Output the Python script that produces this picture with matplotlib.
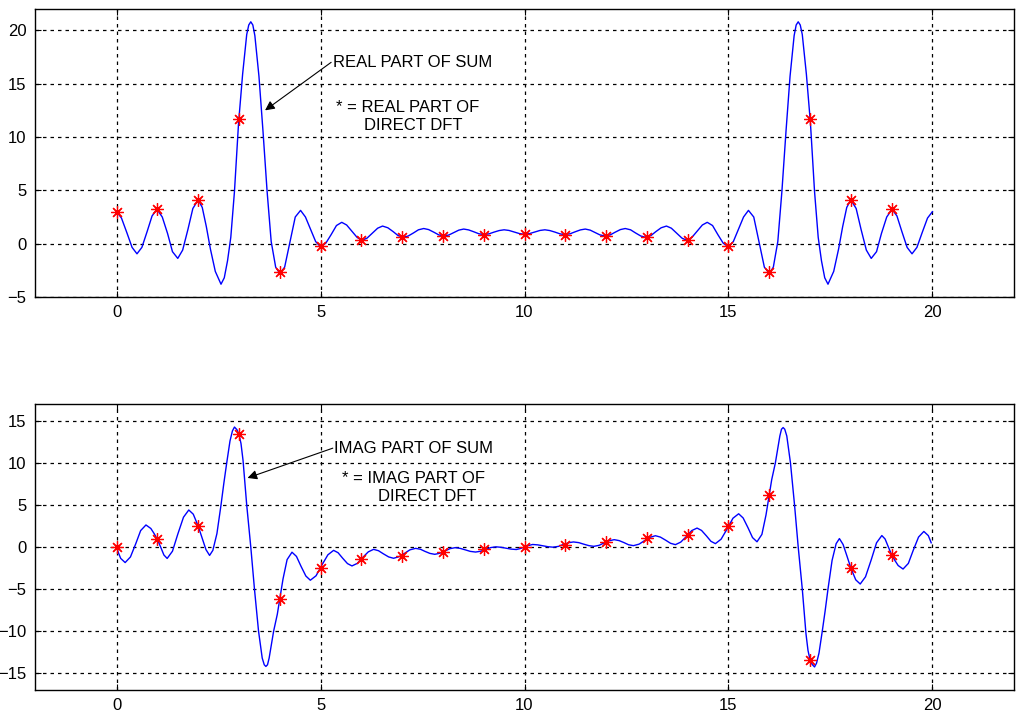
import matplotlib
matplotlib.use("Agg")
import matplotlib.pyplot as plt

plt.rcParams['font.family'] = ['Liberation Sans', 'DejaVu Sans']

# continuous sum, real part
re_k = [0.00, 0.12, 0.25, 0.38, 0.50, 0.62, 0.75, 0.87, 0.99, 1.12, 1.25, 1.37, 1.50, 1.62, 1.75, 1.87,
        2.00, 2.10, 2.20, 2.30, 2.42, 2.56, 2.64, 2.72, 2.80, 2.89, 2.99, 3.09, 3.19, 3.24, 3.29, 3.34, 3.39, 3.49,
        3.59, 3.69, 3.79, 3.90, 4.00, 4.12, 4.25, 4.38, 4.51, 4.63, 4.75, 4.88, 5.00, 5.13, 5.26, 5.39,
        5.52, 5.64, 5.77, 5.90, 6.02, 6.14, 6.27, 6.40, 6.52, 6.65, 6.78, 6.90, 7.03, 7.15, 7.28, 7.40,
        7.53, 7.65, 7.78, 7.90, 8.03, 8.15, 8.27, 8.39, 8.51, 8.63, 8.76, 8.88, 9.01, 9.13, 9.25, 9.38,
        9.50, 9.62, 9.75, 9.88, 10.00,
        10.12, 10.25, 10.38, 10.50, 10.62, 10.75, 10.87, 10.99, 11.12, 11.24, 11.37, 11.49, 11.61, 11.73,
        11.85, 11.97, 12.10, 12.22, 12.35, 12.47, 12.60, 12.72, 12.85, 12.97, 13.10, 13.22, 13.35, 13.48,
        13.60, 13.73, 13.86, 13.98, 14.10, 14.23, 14.36, 14.48, 14.61, 14.74, 14.87, 15.00, 15.12, 15.25,
        15.37, 15.49, 15.62, 15.75, 15.88, 16.00, 16.10, 16.21, 16.31, 16.41, 16.51, 16.61, 16.66, 16.71, 16.76, 16.81,
        16.91, 17.01, 17.11, 17.20, 17.28, 17.36, 17.44, 17.58, 17.70, 17.80, 17.90, 18.00, 18.13, 18.25,
        18.38, 18.50, 18.63, 18.75, 18.88, 19.01, 19.13, 19.25, 19.38, 19.50, 19.62, 19.75, 19.88, 20.00]
re_sum = [3.00, 2.40, 1.05, -0.35, -0.95, -0.35, 1.15, 2.60, 3.22, 2.50, 0.95, -0.75, -1.38, -0.60, 1.35, 3.30,
          4.10, 3.40, 1.60, -0.50, -2.60, -3.80, -3.20, -1.60, 0.60, 4.90, 11.3, 15.9, 19.6, 20.5, 20.8, 20.5, 19.5, 15.7,
          10.5, 4.90, 0.20, -2.20, -2.80, -2.20, 0.15, 2.50, 3.12, 2.50, 1.40, 0.20, -0.30, 0.05, 0.85, 1.70,
          2.00, 1.75, 1.16, 0.57, 0.32, 0.52, 0.99, 1.45, 1.65, 1.49, 1.13, 0.76, 0.60, 0.72, 1.01, 1.30,
          1.42, 1.32, 1.07, 0.82, 0.72, 0.82, 1.05, 1.27, 1.37, 1.29, 1.11, 0.93, 0.85, 0.92, 1.08, 1.23,
          1.30, 1.24, 1.09, 0.94, 0.88,
          0.94, 1.09, 1.24, 1.30, 1.23, 1.08, 0.92, 0.85, 0.93, 1.11, 1.29, 1.37, 1.27, 1.05,
          0.82, 0.72, 0.82, 1.07, 1.32, 1.42, 1.30, 1.01, 0.72, 0.60, 0.76, 1.13, 1.49, 1.65,
          1.45, 0.99, 0.52, 0.32, 0.57, 1.16, 1.75, 2.00, 1.70, 0.85, 0.05, -0.30, 0.20, 1.40,
          2.50, 3.12, 2.50, 0.15, -2.20, -2.80, -2.20, 0.20, 4.90, 10.5, 15.7, 19.5, 20.5, 20.8, 20.5, 19.6,
          15.9, 11.3, 4.90, 0.60, -1.60, -3.20, -3.80, -2.60, -0.50, 1.60, 3.40, 4.10, 3.30, 1.35,
          -0.60, -1.38, -0.75, 0.95, 2.50, 3.22, 2.60, 1.15, -0.35, -0.95, -0.35, 1.05, 2.40, 3.00]

# continuous sum, imaginary part
im_k = [0.00, 0.05, 0.10, 0.21, 0.34, 0.47, 0.59, 0.72, 0.84, 0.92, 1.00, 1.08, 1.16, 1.24, 1.37, 1.50,
        1.64, 1.77, 1.88, 2.00, 2.10, 2.19, 2.28, 2.36, 2.46, 2.56, 2.63, 2.70, 2.78, 2.84, 2.89, 2.95, 3.00,
        3.05, 3.10, 3.19, 3.29, 3.38, 3.48, 3.57, 3.62, 3.66, 3.70, 3.74, 3.85, 3.94, 4.00, 4.08, 4.18, 4.30, 4.41,
        4.52, 4.64, 4.75, 4.89, 5.03, 5.18, 5.32, 5.43, 5.54, 5.66, 5.77, 5.90, 6.03, 6.17, 6.30, 6.42,
        6.54, 6.67, 6.79, 6.92, 7.06, 7.19, 7.33, 7.45, 7.56, 7.68, 7.80, 7.92, 8.05, 8.17, 8.30, 8.42,
        8.55, 8.67, 8.80, 8.92, 9.05, 9.17, 9.30, 9.42, 9.55, 9.67, 9.80, 9.90, 10.00,
        10.10, 10.20, 10.33, 10.45, 10.58, 10.70, 10.83, 10.95, 11.08, 11.20, 11.33, 11.45, 11.58, 11.70,
        11.83, 11.95, 12.08, 12.20, 12.32, 12.44, 12.55, 12.67, 12.81, 12.94, 13.08, 13.21, 13.33, 13.46,
        13.58, 13.70, 13.83, 13.97, 14.10, 14.23, 14.34, 14.46, 14.57, 14.68, 14.82, 14.97, 15.11, 15.25,
        15.36, 15.48, 15.59, 15.70, 15.82, 15.92, 16.00, 16.06, 16.15, 16.26, 16.30, 16.34, 16.38, 16.43, 16.52, 16.62,
        16.71, 16.81, 16.90, 16.95, 17.00, 17.05, 17.11, 17.16, 17.22, 17.30, 17.37, 17.44, 17.54, 17.64, 17.72,
        17.81, 17.90, 18.00, 18.12, 18.23, 18.36, 18.50, 18.63, 18.76, 18.84, 18.92, 19.00, 19.08, 19.16,
        19.28, 19.41, 19.53, 19.66, 19.79, 19.90, 19.97]
im_sum = [0.00, -0.75, -1.35, -1.85, -1.18, 0.39, 1.95, 2.62, 2.20, 1.60, 0.91, 0.00, -0.95, -1.36, -0.50, 1.52,
          3.54, 4.40, 3.90, 2.49, 1.00, -0.30, -1.00, -0.40, 1.60, 5.00, 7.60, 10.0, 12.6, 13.8, 14.26, 13.95, 13.4,
          12.3, 10.3, 5.00, 0.00, -5.00, -10.0, -13.2, -14.0, -14.2, -14.0, -13.2, -10.0, -8.00, -6.20, -3.80, -1.50, -0.62, -1.12,
          -2.28, -3.45, -3.95, -3.42, -2.17, -0.93, -0.40, -0.68, -1.32, -1.97, -2.25, -1.95, -1.26, -0.58, -0.28, -0.44,
          -0.81, -1.18, -1.34, -1.16, -0.75, -0.34, -0.16, -0.27, -0.52, -0.76, -0.87, -0.75, -0.48, -0.20, -0.08, -0.16,
          -0.34, -0.52, -0.60, -0.51, -0.29, -0.07, 0.02, -0.03, -0.14, -0.25, -0.30, -0.18, 0.00,
          0.18, 0.30, 0.25, 0.14, 0.03, -0.02, 0.07, 0.29, 0.51, 0.60, 0.52, 0.34, 0.16, 0.08,
          0.20, 0.48, 0.75, 0.87, 0.76, 0.52, 0.27, 0.16, 0.34, 0.75, 1.16, 1.34, 1.18, 0.81,
          0.44, 0.28, 0.58, 1.26, 1.95, 2.25, 1.97, 1.32, 0.68, 0.40, 0.93, 2.17, 3.42, 3.95,
          3.45, 2.28, 1.12, 0.62, 1.50, 3.80, 6.20, 8.00, 10.0, 13.2, 14.0, 14.2, 14.0, 13.2, 10.0, 5.00,
          0.00, -5.00, -10.3, -12.3, -13.4, -13.95, -14.26, -13.8, -12.6, -10.0, -7.60, -5.00, -1.60, 0.40, 1.00,
          0.30, -1.00, -2.49, -3.90, -4.40, -3.54, -1.52, 0.50, 1.36, 0.95, 0.00, -0.91, -1.60, -2.20,
          -2.62, -1.95, -0.39, 1.18, 1.85, 1.35, 0.50]

# direct DFT values (stars)
k = list(range(20))
re_dft = [3.0, 3.22, 4.1, 11.7, -2.7, -0.25, 0.33, 0.6, 0.72, 0.83, 0.87, 0.83, 0.72, 0.6, 0.33, -0.25,
          -2.7, 11.7, 4.1, 3.22]
im_dft = [0.0, 0.91, 2.49, 13.4, -6.2, -2.5, -1.46, -1.05, -0.58, -0.29, 0.0, 0.29, 0.58, 1.05, 1.46, 2.5,
          6.2, -13.4, -2.49, -0.91]

W, H = 1016, 713
fig = plt.figure(figsize=(W / 100, H / 100), dpi=100)
ax1 = fig.add_axes([35 / W, 1 - 297 / H, (1014 - 35) / W, (297 - 9) / H])
ax2 = fig.add_axes([35 / W, 1 - 690 / H, (1014 - 35) / W, (690 - 404) / H])


def style(ax, ylim, yticks):
    ax.set_xlim(-2, 22)
    ax.set_ylim(*ylim)
    ax.set_xticks([0, 5, 10, 15, 20])
    ax.set_yticks(yticks)
    ax.grid(True, color='black', linestyle=(0, (2.8, 3.2)), linewidth=0.9)
    ax.set_axisbelow(True)
    ax.tick_params(direction='in', length=4, width=0.8, top=True, right=True,
                   labelsize=12, pad=6)
    for s in ax.spines.values():
        s.set_linewidth(1.0)


def arrow(ax, tail, tip):
    ax.annotate('', xy=tip, xytext=tail,
                arrowprops=dict(arrowstyle='-|>', color='black', lw=0.8, mutation_scale=14,
                                shrinkA=0, shrinkB=0))


star = dict(linestyle='none', marker=(8, 2, 0), ms=9, mew=0.9, color='red')

ax1.plot(re_k, re_sum, color='#0000ff', lw=1.0)
ax1.plot(k, re_dft, **star)
style(ax1, (-5, 22), [-5, 0, 5, 10, 15, 20])
ax1.text(5.30, 17.0, 'REAL PART OF SUM', fontsize=12, va='center', ha='left')
arrow(ax1, (5.26, 17.0), (3.64, 12.5))
ax1.text(5.37, 12.77, '* = REAL PART OF', fontsize=12, va='center', ha='left')
ax1.text(6.06, 11.09, 'DIRECT DFT', fontsize=12, va='center', ha='left')

ax2.plot(im_k, im_sum, color='#0000ff', lw=1.0)
ax2.plot(k, im_dft, **star)
style(ax2, (-17, 17), [-15, -10, -5, 0, 5, 10, 15])
ax2.text(5.34, 11.75, 'IMAG PART OF SUM', fontsize=12, va='center', ha='left')
arrow(ax2, (5.30, 11.75), (3.21, 8.21))
ax2.text(5.52, 8.18, '* = IMAG PART OF', fontsize=12, va='center', ha='left')
ax2.text(6.40, 6.04, 'DIRECT DFT', fontsize=12, va='center', ha='left')

fig.savefig('out.png', dpi=100)
